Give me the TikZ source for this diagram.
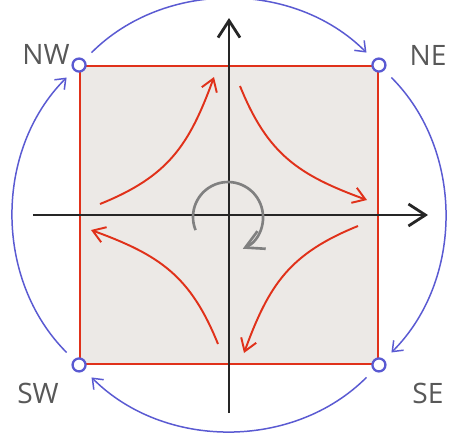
\documentclass[tikz,border=0pt]{standalone}
\usepackage{fontspec}
\setmainfont{Open Sans}
\usetikzlibrary{arrows.meta}
\definecolor{SketchRed}{RGB}{224,49,26}
\definecolor{SketchBlue}{RGB}{90,90,210}
\definecolor{SketchGray}{RGB}{128,128,128}
\definecolor{LabelGray}{RGB}{88,88,88}
\definecolor{PaperFill}{RGB}{236,233,230}

\begin{document}
\begin{tikzpicture}[
    x=0.02cm, y=0.02cm,
    plane/.style={
        draw=SketchRed,
        line width=1.1pt,
        fill=PaperFill,
        inner sep=0pt,
        minimum size=5.96cm
    },
    corner/.style={
        circle,
        draw=SketchBlue,
        line width=1.3pt,
        fill=white,
        inner sep=0pt,
        minimum size=0.26cm
    },
    lbl/.style={
        text=LabelGray,
        font=\fontsize{16}{16}\selectfont
    },
    axis/.style={
        -{Straight Barb[length=3.4mm,width=4.4mm]},
        line width=1.6pt,
        draw=black!85
    },
    flow/.style={
        -{Straight Barb[length=2.4mm,width=3.2mm]},
        line width=1.1pt,
        draw=SketchRed,
        looseness=1.1
    },
    ring/.style={
        -{Straight Barb[length=1.8mm,width=2.8mm]},
        line width=0.85pt,
        draw=SketchBlue,
        shorten <=0.2cm,
        shorten >=0.2cm
    },
    spin/.style={
        -{Straight Barb[length=3.6mm,width=3.9mm]},
        line width=1.5pt,
        draw=SketchGray
    }
]
\useasboundingbox (-229,-219) rectangle (220,215);

% square with its corners
\node[plane] (sq) at (0,0) {};

\node[corner] (nw) at (sq.north west) {};
\node[corner] (ne) at (sq.north east) {};
\node[corner] (se) at (sq.south east) {};
\node[corner] (sw) at (sq.south west) {};

\node[lbl] (nwlabel) at (-183,161) {NW};
\node[lbl] (nelabel) at (199,160) {NE};
\node[lbl] (selabel) at (199,-178) {SE};
\node[lbl] (swlabel) at (-191,-178) {SW};

% axes
\coordinate (xstart) at (-196,0);
\coordinate (xend) at (199,0);
\coordinate (ystart) at (0,-198);
\coordinate (yend) at (0,197);

\draw[axis] (xstart) -- (xend);
\draw[axis] (ystart) -- (yend);

% flow in the four quadrants
\coordinate (ulstart) at (-129,11);
\coordinate (ulend) at (-15,138);
\coordinate (urstart) at (11,129);
\coordinate (urend) at (138,15);
\coordinate (lrstart) at (129,-11);
\coordinate (lrend) at (15,-138);
\coordinate (llstart) at (-11,-129);
\coordinate (llend) at (-138,-15);

\draw[flow] (ulstart) to[out=22,in=250] (ulend);
\draw[flow] (urstart) to[out=-68,in=160] (urend);
\draw[flow] (lrstart) to[out=-158,in=70] (lrend);
\draw[flow] (llstart) to[out=112,in=-20] (llend);

% rotation
\draw[spin] (-1,-2) ++(202:0.7cm) arc[start angle=202,end angle=-65,radius=0.7cm];

% outer ring, clockwise
\draw[ring] (nw) to[out=45,in=135] (ne);
\draw[ring] (ne) to[out=-45,in=45] (se);
\draw[ring] (se) to[out=-135,in=-45] (sw);
\draw[ring] (sw) to[out=135,in=-135] (nw);

\end{tikzpicture}
\end{document}
